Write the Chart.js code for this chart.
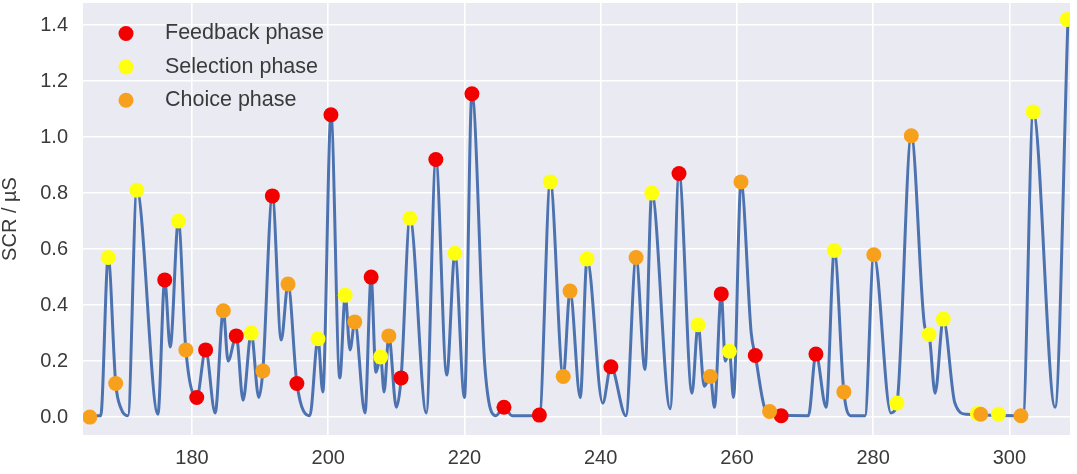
<!DOCTYPE html>
<html><head><meta charset="utf-8">
<script src="https://cdn.jsdelivr.net/npm/chart.js@4.4.0/dist/chart.umd.min.js"></script>
<style>html,body{margin:0;padding:0;background:#fff}#wrap{width:1077px;height:474px;position:relative}</style>
</head><body><div id="wrap"><canvas id="c"></canvas></div>
<script>
// SCR curve (time in s, SCR in microsiemens)
const curveX = [164.0,166.6,167.7,168.8,169.6,170.6,171.9,175.0,176.0,176.8,178.0,179.1,180.7,182.0,183.4,184.6,185.3,186.5,187.5,188.7,189.8,190.4,191.8,193.1,194.1,195.4,197.3,198.5,199.2,200.4,201.7,202.5,203.2,203.9,205.4,206.3,207.0,207.7,208.2,208.9,210.0,210.7,212.0,214.4,215.8,217.4,218.6,220.0,221.1,223.0,224.6,225.8,227.0,231.0,232.6,234.5,235.5,237.0,238.0,240.3,241.5,243.7,245.2,246.5,247.5,250.2,251.5,253.4,254.3,255.2,256.1,256.7,257.7,258.3,258.9,259.5,260.6,262.1,262.7,264.2,265.5,270.5,271.6,273.1,274.3,275.7,276.7,278.8,280.1,282.6,283.5,285.6,287.6,288.2,289.1,290.3,292.0,293.7,302.0,303.5,306.7,308.6];
const curveY = [0.005,0.005,0.57,0.12,0.03,0.005,0.81,0.01,0.49,0.25,0.70,0.24,0.07,0.24,0.015,0.38,0.20,0.29,0.06,0.30,0.07,0.165,0.79,0.275,0.475,0.12,0.005,0.28,0.09,1.08,0.14,0.435,0.24,0.34,0.015,0.50,0.16,0.215,0.09,0.29,0.035,0.14,0.71,0.015,0.92,0.15,0.585,0.07,1.155,0.18,0.005,0.035,0.005,0.005,0.84,0.145,0.45,0.07,0.565,0.05,0.18,0.005,0.57,0.17,0.80,0.03,0.87,0.085,0.33,0.11,0.145,0.035,0.44,0.20,0.235,0.07,0.84,0.30,0.22,0.025,0.008,0.005,0.225,0.035,0.595,0.09,0.005,0.005,0.58,0.015,0.05,1.005,0.32,0.295,0.085,0.35,0.05,0.01,0.005,1.09,0.035,1.42];

const feedbackX = [176.0,180.7,182.0,186.5,191.8,195.4,200.4,206.3,210.7,215.8,221.1,225.8,231.0,241.5,251.5,257.7,262.7,266.5,271.6];
const feedbackY = [0.49,0.07,0.24,0.29,0.79,0.12,1.08,0.50,0.14,0.92,1.155,0.035,0.007,0.18,0.87,0.44,0.22,0.005,0.225];

const selectionX = [167.7,171.9,178.0,188.7,198.5,202.5,207.7,212.0,218.6,232.6,238.0,247.5,254.3,258.9,274.3,283.5,288.2,290.3,295.3,298.4,303.5,308.5];
const selectionY = [0.57,0.81,0.70,0.30,0.28,0.435,0.215,0.71,0.585,0.84,0.565,0.80,0.33,0.235,0.595,0.05,0.295,0.35,0.013,0.01,1.09,1.42];

const choiceX = [165.0,168.8,179.1,184.6,190.4,194.1,203.9,208.9,234.5,235.5,245.2,256.1,260.6,264.8,275.7,280.1,285.6,295.8,301.7];
const choiceY = [0.0,0.12,0.24,0.38,0.165,0.475,0.34,0.29,0.145,0.45,0.57,0.145,0.84,0.02,0.09,0.58,1.005,0.01,0.005];

const seriesNames = ['Feedback phase','Selection phase','Choice phase'];
const xTicks = [180,200,220,240,260,280,300];
const yTicks = [0.0,0.2,0.4,0.6,0.8,1.0,1.2,1.4];
const yTitle = 'SCR / \u00B5S';

const COLORS = ['#F20000','#FFFF10','#F7A01C'];
const FONT = '"Liberation Sans", Arial, sans-serif';
const TXT = '#3a3a3a';

const pts = (xs, ys) => xs.map((x, i) => ({x: x, y: ys[i]}));

const bgPlugin = {
  id: 'bg',
  beforeDraw(chart) {
    const {ctx, chartArea: a} = chart;
    ctx.save();
    ctx.fillStyle = '#EAEAF2';
    ctx.fillRect(a.left, a.top, a.right - a.left, a.bottom - a.top);
    ctx.restore();
  }
};

const legendPlugin = {
  id: 'innerLegend',
  afterDraw(chart) {
    const {ctx, chartArea: a} = chart;
    ctx.save();
    ctx.font = '21.5px ' + FONT;
    ctx.textBaseline = 'middle';
    ctx.textAlign = 'left';
    seriesNames.forEach((name, i) => {
      const y = a.top + 30.5 + i * 33.4;
      ctx.beginPath();
      ctx.arc(a.left + 43, y, 7.5, 0, Math.PI * 2);
      ctx.fillStyle = COLORS[i];
      ctx.fill();
      ctx.fillStyle = TXT;
      ctx.fillText(name, a.left + 82, y);
    });
    ctx.restore();
  }
};

const markerDs = (label, xs, ys, color, order) => ({
  label: label,
  data: pts(xs, ys),
  backgroundColor: color,
  pointBackgroundColor: color,
  pointBorderWidth: 0,
  pointRadius: 7.5,
  pointHoverRadius: 7.5,
  showLine: false,
  clip: 0,
  order: order
});

new Chart(document.getElementById('c'), {
  type: 'scatter',
  data: {
    datasets: [
      {
        label: 'SCR',
        data: pts(curveX, curveY),
        showLine: true,
        borderColor: '#4C72B0',
        borderWidth: 3,
        pointRadius: 0,
        cubicInterpolationMode: 'monotone',
        clip: 0,
        order: 10
      },
      markerDs(seriesNames[0], feedbackX, feedbackY, COLORS[0], 3),
      markerDs(seriesNames[1], selectionX, selectionY, COLORS[1], 2),
      markerDs(seriesNames[2], choiceX, choiceY, COLORS[2], 1)
    ]
  },
  options: {
    responsive: true,
    maintainAspectRatio: false,
    animation: false,
    events: [],
    layout: {autoPadding: false, padding: {left: 0, top: 3, right: 7, bottom: 0}},
    plugins: {legend: {display: false}, tooltip: {enabled: false}},
    scales: {
      x: {
        type: 'linear',
        min: 164.0,
        max: 308.9,
        afterBuildTicks: s => { s.ticks = xTicks.map(v => ({value: v})); },
        afterFit: s => { s.height = 39; s.paddingLeft = 0; s.paddingRight = 0; },
        grid: {color: '#FFFFFF', lineWidth: 1.6, drawTicks: false},
        border: {display: false},
        ticks: {color: TXT, font: {family: FONT, size: 20}, padding: 11, maxRotation: 0,
                callback: v => String(v)}
      },
      y: {
        type: 'linear',
        min: -0.064,
        max: 1.479,
        afterBuildTicks: s => { s.ticks = yTicks.map(v => ({value: v})); },
        afterFit: s => { s.width = 83; s.paddingTop = 0; s.paddingBottom = 0; },
        grid: {color: '#FFFFFF', lineWidth: 1.6, drawTicks: false},
        border: {display: false},
        ticks: {color: TXT, font: {family: FONT, size: 20}, padding: 15,
                callback: v => Number(v).toFixed(1)},
        title: {display: true, text: yTitle, color: TXT,
                font: {family: FONT, size: 20, lineHeight: 1}, padding: {top: 0, bottom: 0}}
      }
    }
  },
  plugins: [bgPlugin, legendPlugin]
});
</script>
</body></html>
